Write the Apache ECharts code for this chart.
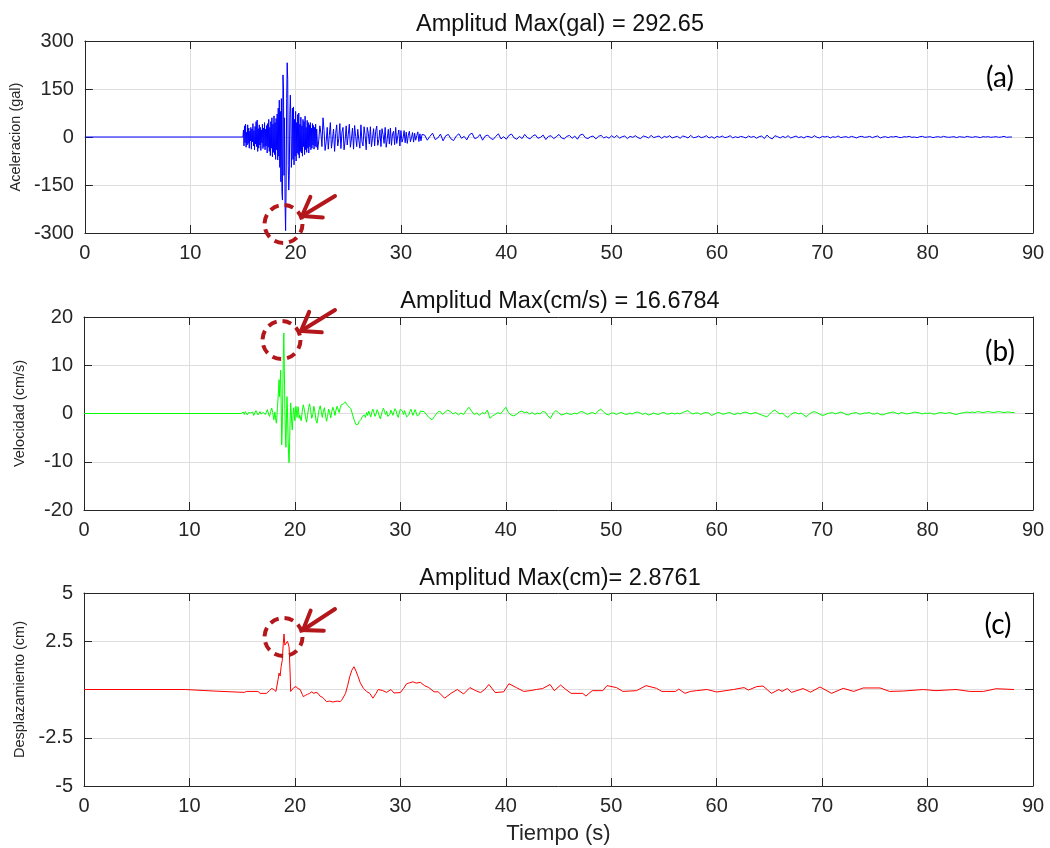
<!DOCTYPE html>
<html><head><meta charset="utf-8">
<script src="https://cdn.jsdelivr.net/npm/echarts@6/dist/echarts.min.js"></script>
<style>html,body{margin:0;padding:0;background:#fff}#c{width:1050px;height:848px}</style>
</head><body><div id="c"></div>
<script>
// ---------- tick labels ----------
const timeTicks = [0, 10, 20, 30, 40, 50, 60, 70, 80, 90];
const accTicks = [-300, -150, 0, 150, 300];
const velTicks = [-20, -10, 0, 10, 20];
const dispTicks = [-5, -2.5, 0, 2.5, 5];

// ---------- texts ----------
const accTitle = 'Amplitud Max(gal) = 292.65';
const velTitle = 'Amplitud Max(cm/s) = 16.6784';
const dispTitle = 'Amplitud Max(cm)= 2.8761';
const accName = 'Aceleracion (gal)';
const velName = 'Velocidad (cm/s)';
const dispName = 'Desplazamiento (cm)';
const xName = 'Tiempo (s)';
const panelLabels = ['(a)', '(b)', '(c)'];

// ---------- acceleration (gal) ----------
const accPre = [[0, 0]];
const accStart = [15.0, 22.1, 32.25];
const accStep = [0.05, 0.1, 0.25];
const accSeg1 = [0,22,-28,35,-18,40,-32,15,-25,38,-20,28,-35,18,-12,30,-38,25,-15,42,
 -28,20,-40,33,-22,48,-30,53,-45,26,-35,38,-25,30,-42,22,-18,40,-36,28,
 -30,45,-40,24,-28,36,-50,42,-32,55,-45,30,-58,48,-35,60,-62,40,-48,66,
 -55,45,-70,58,-40,72,-72,90,-60,115,-95,80,-140,120,-170,-197,194,150,-120,60,
 -210,-292.65,-150,120,232,180,-90,-166,-120,70,131,60,-95,-40,90,-70,94,-87,55,-60,
 80,-75,45,-50,70,-55,75,-66,40,-45,62,-50,35,-60,55,-30,48,-55,65,-40,
 30,-48,52,-35,45,-50,38,-30,45,-40,28,-35,42,-25,36,-38,30,-28,40,-32,25];
const accSeg2 = [-40,-10,35,12,-30,60,20,-42,-15,30,
 -38,5,45,-35,-8,25,-45,10,38,-28,
 -5,42,-36,15,30,-40,-12,35,-25,8,
 40,-32,-6,28,-38,36,2,-30,24,-10,
 -35,38,-15,-28,32,5,-40,30,12,-22,
 32,-30,-4,26,-28,18,34,-26,-8,22,
 -30,26,8,-20,30,-32,-6,24,-22,28,
 -26,10,18,-24,30,-20,4,22,-28,20,
 -16,-4,20,-18,15,-20,6,18,-15,-2,
 14,-16,12,-10,4,16,-14,10,-12,8];
const accSeg3 = [6,-10,2,12,-8,-3,9,-12, 4,8,-6,-11,3,10,-4,2,
 -9,7,12,-5,-2,8,-10,3, 6,-4,-8,2,10,-6,1,-7,
 5,9,-3,-7,2,-5,8,-2, -6,3,7,-4,-1,6,-8,2,
 4,-5,1,8,-3,-6,2,5, -4,3,-7,6,9,-2,-5,1,
 3,-6,2,5,-3,1,-4,4, -2,5,-4,1,3,-5,2,-1,
 4,-2,-5,3,1,-3,5,-2, 1,3,-4,2,-1,4,-3,0,
 2,-4,3,1,-3,5,-2,-1, 3,-2,0,4,-3,1,-4,2,
 -1,3,-2,0,4,-3,1,-2, 2,0,-3,3,-1,2,-4,1,
 3,-5,6,-2,-6,4,1,-3, 2,-2,4,-3,0,3,-2,1,
 -3,2,1,-2,4,-1,-3,2, 0,2,-3,1,-1,3,-2,0,
 1,-2,2,0,-3,1,2,-1, 0,2,-2,1,3,-3,0,1,
 -2,1,0,2,-1,-2,1,0, 2,-1,0,-2,1,2,-1,0,
 1,-2,0,1,-1,2,0,-1, 0,1,-2,1,0,-1,2,0,
 -1,1,0,-2,1,0,1,-1, 0,1,-1,0,2,-1,0,0];

// ---------- velocity (cm/s) ----------
const velPre = [[0, 0], [14.9, 0]];
const velStart = [15.0, 18.05, 20.5, 32.25];
const velStep = [0.1, 0.05, 0.1, 0.25];
const velSeg1 = [0,0.3,-0.2,0.4,0.1,-0.3,0.2,0.5,0.1,-0.2,0.3,-0.4,0.1,0.6,0.2,-0.3,
 0.1,0.4,-0.1,-0.5,0.2,0.5,-0.2,0.3,0.8,-0.1,-0.6,0.4,1.1,0.2,-1.3];
const velSeg2 = [-0.8,0.3,-0.5,-1.5,-2.0,-0.5,1.5,3.0,5.0,7.0,3.5,6.0,9.0,2.0,-6.5,-3.0,
 4.0,11.0,16.68,9.0,1.0,-4.0,-7.0,-1.0,3.5,0.5,-5.0,-8.5,-10.2,-6.0,-1.0,2.2,
 0.5,-2.0,-3.4,-1.5,0.5,1.2,-0.5,-1.5,0.3,1.5,0.6,-0.8,0.2,1.4,0.5,-1.0,-0.3];
const velSeg3 = [-0.5,-1.5,0.5,1.8,0.8,-0.6,-1.8,-0.4,1.2,2.0,0.6,-1.0,-0.2,1.5,0.3,-1.4,
 -2.0,-0.5,0.8,1.6,0.4,-0.8,0.5,1.2,-0.3,-1.6,-0.6,0.9,0.2,-0.9,0.4,1.3,
 0.6,-0.4,0.7,1.5,0.8,0.2,1.2,1.8,1.4,2.0,1.6,2.4,1.9,2.2,1.5,1.8,
 1.0,0.3,-0.5,-1.2,-1.8,-2.3,-2.7,-2.2,-1.6,-1.9,-1.2,-0.6,-1.0,-0.3,-0.8,0.2,
 -0.4,0.5,0.1,-0.7,0.3,0.9,0.2,-0.6,-0.1,0.8,0.3,-0.5,-1.1,-0.3,0.6,1.1,
 0.4,-0.2,0.5,-0.6,-1.0,-0.2,0.7,0.3,-0.4,0.4,1.0,0.5,-0.3,-0.8,0.1,0.9,
 1.2,0.5,-0.2,0.6,0.2,-0.7,-1.0,-0.3,0.4,0.9,0.3,-0.4,0.2,0.8,0.4,-0.5,
 -0.9,-0.2,0.5,0.8];
const velSeg4 = [0.4,-0.3,-0.9,-1.3,-0.6,0.2,0.5,-0.2, 0.3,0.7,0.4,-0.1,0.2,-0.3,0.1,-0.2,
 0.6,1.3,0.5,-0.2,0.1,-0.4,0.2,-0.1, 0.7,-1.0,-0.5,-0.2,0.2,-0.1,0.6,1.3,
 0.2,-0.3,-0.5,-0.2,0.3,0.5,0.2,0.3, -0.1,0.2,-0.2,0.1,-0.1,0.4,0.3,-0.5,
 -1.0,0.1,0.6,0.2,-0.3,-0.2,0.1,-0.1, -0.2,0.1,-0.1,0.3,0.4,0.1,-0.2,0.1,
 0.2,-0.1,0.5,0.9,0.4,-0.1,-0.3,0.1, 0.1,-0.2,0.1,0.2,-0.1,-0.2,0.1,-0.1,
 0.2,0.3,0.1,-0.2,0.1,-0.3,-0.2,0.1, -0.1,-0.2,0.1,0.2,-0.1,-0.1,0.1,-0.1,
 0.1,-0.1,0.2,0.4,0.6,0.2,-0.1,0.1, 0.1,-0.2,0.1,0.2,0.1,-0.4,-0.2,0.1,
 0.2,-0.1,-0.1,0.1,0.2,-0.1,-0.2,0.1, -0.1,0.2,0.3,0.1,-0.1,0.1,0.2,-0.1,
 -0.3,-0.5,-0.7,-0.2,0.4,0.7,0.3,-0.1, 0.1,-0.5,-0.8,-0.3,0.1,0.2,-0.1,0.1,
 -0.3,-0.7,-0.2,0.2,0.4,0.2,-0.1,-0.4, -0.3,0.0,0.1,0.2,-0.1,0.1,0.3,0.1,
 -0.2,-0.3,0.0,0.1,0.2,-0.1,-0.1,0.1, 0.1,0.2,-0.1,-0.1,0.1,-0.2,-0.3,-0.1,
 0.1,0.2,0.3,0.1,-0.1,0.2,0.1,-0.1, 0.0,0.1,0.3,0.2,0.1,-0.1,0.1,0.0,
 0.1,-0.1,-0.1,0.1,0.2,0.1,0.0,0.2, 0.1,-0.1,-0.2,0.0,0.1,0.2,0.3,0.2,
 0.3,0.2,0.4,0.3,0.2,0.3,0.4,0.3, 0.2,0.3,0.4,0.3,0.2,0.3,0.3,0.2, 0.2];

// ---------- displacement (cm): [time, value] ----------
const dispTime = [0,9.6,9.7,12.3,12.4,15.2,15.4,16.5,16.7,17.3,17.6,17.8,18.0,18.2,18.4,18.5,18.6,18.7,18.8,18.9,
 18.97,19.05,19.2,19.3,19.45,19.55,19.6,19.7,19.9,20.1,20.3,20.5,20.7,20.8,21.0,21.2,21.4,21.6,21.8,22.0,
 22.2,22.4,22.6,22.8,23.0,23.3,23.6,24.0,24.3,24.5,24.8,25.0,25.2,25.4,25.6,25.8,26.0,26.2,26.5,26.8,
 27.1,27.4,27.7,27.9,28.3,28.7,29.1,29.4,30.0,30.3,30.6,30.9,31.2,31.5,31.9,32.3,32.7,33.2,33.6,34.2,
 34.8,35.4,36.0,36.6,37.1,37.6,38.0,38.4,39.0,39.8,40.3,41.0,41.7,42.3,42.9,43.5,44.2,44.6,45.2,45.7,
 46.2,47.3,47.6,48.2,49.2,49.6,50.5,51.1,52.4,53.3,54.3,54.8,56.1,56.4,57.0,57.5,58.1,59.1,60.0,61.6,
 62.6,63.0,63.8,64.4,65.2,65.9,66.2,66.7,67.1,68.2,68.9,69.8,70.9,72.0,73.0,73.9,75.5,76.4,77.7,79.6,
 80.8,82.7,84.0,85.3,86.5,88.2];
const dispValue = [0,0,-0.08,-0.08,-0.15,-0.15,-0.1,-0.1,-0.2,-0.2,-0.05,0.05,0.0,-0.1,0.5,0.85,0.7,1.2,1.5,2.4,
 2.876,2.3,2.2,2.5,2.2,0.8,-0.1,0.0,0.1,0.15,0.05,0.0,-0.25,-0.37,-0.3,-0.25,-0.2,-0.12,-0.2,-0.15,
 -0.2,-0.35,-0.4,-0.5,-0.63,-0.6,-0.65,-0.6,-0.63,-0.5,-0.2,0.2,0.66,1.0,1.18,0.95,0.66,0.35,0.06,-0.1,
 -0.2,-0.45,-0.2,0.0,-0.05,-0.15,0.0,-0.18,-0.16,0.05,0.3,0.35,0.4,0.33,0.37,0.2,0.1,-0.12,-0.12,-0.45,
 -0.2,0.0,-0.23,0.1,-0.05,-0.16,0.0,0.26,-0.16,-0.12,0.3,0.1,-0.1,-0.06,0.0,0.05,0.26,-0.06,0.23,0.0,
 -0.2,-0.2,-0.34,-0.06,-0.06,0.2,0.1,-0.1,-0.06,0.2,0.06,-0.1,-0.1,0.02,-0.2,-0.1,-0.06,0.0,-0.13,0.0,
 0.1,-0.03,0.15,0.18,-0.2,0.0,-0.1,0.05,-0.15,0.05,-0.14,0.13,-0.2,0.06,-0.1,0.08,0.08,-0.1,-0.08,0.0,
 -0.06,0.0,-0.1,-0.1,0.04,0.0];

// ---------- build series data ----------
function buildSegments(pre, starts, steps, segs) {
  const out = pre.slice();
  segs.forEach((seg, k) => {
    seg.forEach((v, i) => out.push([+(starts[k] + i * steps[k]).toFixed(3), v]));
  });
  return out;
}
const accData = buildSegments(accPre, accStart, accStep, [accSeg1, accSeg2, accSeg3]);
const velData = buildSegments(velPre, velStart, velStep, [velSeg1, velSeg2, velSeg3, velSeg4]);
const dispData = dispTime.map((t, i) => [t, dispValue[i]]);

// ---------- layout ----------
const FONT = '"Liberation Sans", Arial, sans-serif';
const INK = '#262626';
const GRID_LINE = '#dedede';
const grids = [
  { left: 84, right: 17, top: 41, height: 192 },
  { left: 84, right: 17, top: 317, height: 193 },
  { left: 84, right: 17, top: 593, height: 193 }
];

const panels = [
  { ticks: accTicks, name: accName, data: accData, color: '#0000ff', hideZero: false },
  { ticks: velTicks, name: velName, data: velData, color: '#00ff00', hideZero: false },
  { ticks: dispTicks, name: dispName, data: dispData, color: '#ff0000', hideZero: true }
];

const xAxes = [], yAxes = [], series = [];
panels.forEach((p, gi) => {
  const tmin = timeTicks[0], tmax = timeTicks[timeTicks.length - 1], tint = timeTicks[1] - timeTicks[0];
  const ymin = p.ticks[0], ymax = p.ticks[p.ticks.length - 1], yint = p.ticks[1] - p.ticks[0];
  xAxes.push({
    gridIndex: gi, type: 'value', position: 'bottom', min: tmin, max: tmax, interval: tint,
    axisLine: { show: true, onZero: false, lineStyle: { color: INK, width: 1 } },
    axisTick: { show: true, inside: true, length: 8, lineStyle: { color: INK } },
    axisLabel: { fontSize: 20, color: INK, margin: 10, fontFamily: FONT },
    splitLine: { show: true, lineStyle: { color: GRID_LINE, width: 1 } },
    name: gi === 2 ? xName : '', nameLocation: 'middle', nameGap: 37,
    nameTextStyle: { fontSize: 22, color: INK, fontFamily: FONT }
  });
  xAxes.push({
    gridIndex: gi, type: 'value', position: 'top', min: tmin, max: tmax, interval: tint,
    axisLine: { show: true, onZero: false, lineStyle: { color: INK, width: 1 } },
    axisTick: { show: true, inside: true, length: 8, lineStyle: { color: INK } },
    axisLabel: { show: false }, splitLine: { show: false }
  });
  yAxes.push({
    gridIndex: gi, type: 'value', position: 'left', min: ymin, max: ymax, interval: yint,
    axisLine: { show: true, onZero: false, lineStyle: { color: INK, width: 1 } },
    axisTick: { show: true, inside: true, length: 8, lineStyle: { color: INK } },
    axisLabel: { fontSize: 20, color: INK, margin: 11, fontFamily: FONT,
      formatter: v => (p.hideZero && v === 0) ? '' : String(v) },
    splitLine: { show: true, lineStyle: { color: GRID_LINE, width: 1 } },
    name: p.name, nameLocation: 'middle', nameRotate: 90, nameGap: 57,
    nameTextStyle: { fontSize: 14.5, color: INK, fontFamily: FONT }
  });
  yAxes.push({
    gridIndex: gi, type: 'value', position: 'right', min: ymin, max: ymax, interval: yint,
    axisLine: { show: true, onZero: false, lineStyle: { color: INK, width: 1 } },
    axisTick: { show: true, inside: true, length: 8, lineStyle: { color: INK } },
    axisLabel: { show: false }, splitLine: { show: false }
  });
  series.push({
    type: 'line', xAxisIndex: gi * 2, yAxisIndex: gi * 2, data: p.data,
    showSymbol: false, symbol: 'none', sampling: null, animation: false, z: 3,
    lineStyle: { color: p.color, width: 1 }
  });
});

// ---------- annotations ----------
const RED = '#b3161b';
const titleY = [25, 302, 579];
const titles = [accTitle, velTitle, dispTitle];
const labelPos = [[1000, 78], [1000, 352], [998, 625]];
const circles = [[283.5, 224], [281.5, 340], [283.5, 637]];
const arrows = [
  { tail: [335, 196], tip: [302, 216] },
  { tail: [335, 310], tip: [301, 331] },
  { tail: [335, 609], tip: [303, 630] }
];
const graphic = [];
titles.forEach((t, i) => graphic.push({
  type: 'text', x: 560, y: titleY[i], z: 10,
  style: { text: t, fill: '#111', font: '23.5px ' + FONT, align: 'center', verticalAlign: 'middle' }
}));
panelLabels.forEach((t, i) => graphic.push({
  type: 'text', x: labelPos[i][0], y: labelPos[i][1], z: 10,
  style: { text: t, fill: '#000', font: '28px Lato, "Open Sans", sans-serif', align: 'center', verticalAlign: 'middle' }
}));
circles.forEach(c => graphic.push({
  type: 'circle', shape: { cx: c[0], cy: c[1], r: 19 }, z: 20,
  style: { fill: 'none', stroke: RED, lineWidth: 4, lineDash: [9, 6] }
}));
arrows.forEach(a => {
  const dx = a.tip[0] - a.tail[0], dy = a.tip[1] - a.tail[1];
  const len = Math.hypot(dx, dy), ux = dx / len, uy = dy / len;
  const h = 17, w = 12;
  const bx = a.tip[0] - ux * h, by = a.tip[1] - uy * h;
  const p1 = [bx - uy * w, by + ux * w], p2 = [bx + uy * w, by - ux * w];
  graphic.push({ type: 'line', z: 20, shape: { x1: a.tail[0], y1: a.tail[1], x2: a.tip[0], y2: a.tip[1] },
    style: { stroke: RED, lineWidth: 4, lineCap: 'round' } });
  graphic.push({ type: 'polyline', z: 20, shape: { points: [p1, a.tip, p2] },
    style: { stroke: RED, lineWidth: 4, fill: 'none', lineCap: 'round', lineJoin: 'miter' } });
});

const chart = echarts.init(document.getElementById('c'), null, { renderer: 'canvas' });
chart.setOption({
  backgroundColor: '#fff',
  animation: false,
  grid: grids,
  xAxis: xAxes,
  yAxis: yAxes,
  series: series,
  graphic: graphic
});
</script>
</body></html>
